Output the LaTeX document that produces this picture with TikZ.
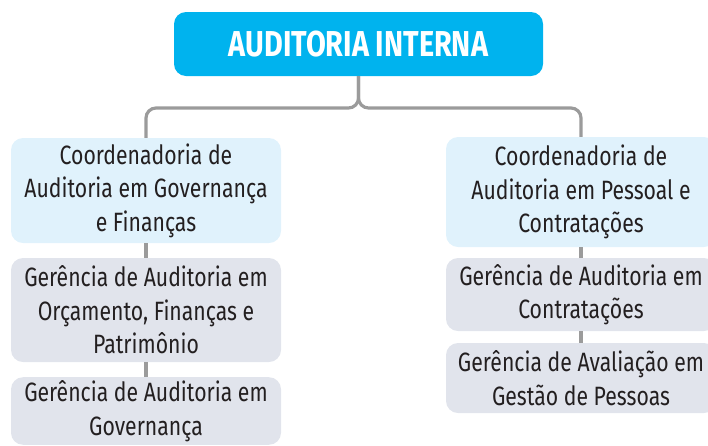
\documentclass[tikz,border=0pt]{standalone}
\usepackage{fontspec}
\setmainfont{Fira Sans}[FakeStretch=0.8]
\definecolor{topcyan}{HTML}{00B3EE}
\definecolor{coordblue}{HTML}{E0F2FC}
\definecolor{unitgray}{HTML}{E1E4EC}
\definecolor{linkgray}{HTML}{9B9B9B}
\definecolor{textdark}{HTML}{231F20}
\begin{document}
\begin{tikzpicture}[
            x=1pt, y=-1pt,
            head/.style={rounded corners=12pt, fill=topcyan, text=white, minimum width=369pt, minimum height=64pt, font=\fontsize{36}{40}\selectfont\bfseries},
            coord/.style={rounded corners=12pt, fill=coordblue, text=textdark, minimum width=270pt, align=center, font=\fontsize{26.5}{33.5}\selectfont},
            unit/.style={rounded corners=12pt, fill=unitgray, text=textdark, minimum width=270pt, align=center, font=\fontsize{26.5}{33.5}\selectfont},
            line/.style={draw=linkgray, line width=3.2pt}
        ]
        \clip (0,0) rectangle (708,445);
        \useasboundingbox (0,0) rectangle (708,445);

        % Top node
        \node[head] (audit) at (358.5,44) {AUDITORIA INTERNA};
        \coordinate (fork) at (358.5,108);

        % Left column
        \node[coord, minimum height=105pt] (coordgov) at (146,190.5) {Coordenadoria de\\Auditoria em Governança\\e Finanças};
        \node[unit, minimum height=104pt] (gerorc) at (146,310) {Gerência de Auditoria em\\Orçamento, Finanças e\\Patrimônio};
        \node[unit, minimum height=66pt] (gergov) at (146,411) {Gerência de Auditoria em\\Governança};

        % Right column
        \node[coord, minimum height=110pt] (coordpes) at (581,192) {Coordenadoria de\\Auditoria em Pessoal e\\Contratações};
        \node[unit, minimum height=73pt] (gercont) at (581,294.5) {Gerência de Auditoria em\\Contratações};
        \node[unit, minimum height=70pt] (geraval) at (581,378) {Gerência de Avaliação em\\Gestão de Pessoas};

        \draw[line, rounded corners=10pt] (audit.south) -- (fork) -| (coordgov.north);
        \draw[line, rounded corners=10pt] (audit.south) -- (fork) -| (coordpes.north);

        \draw[line] (coordgov) -- (gerorc);
        \draw[line] (gerorc) -- (gergov);

        \draw[line] (coordpes) -- (gercont);
        \draw[line] (gercont) -- (geraval);

    \end{tikzpicture}
\end{document}
